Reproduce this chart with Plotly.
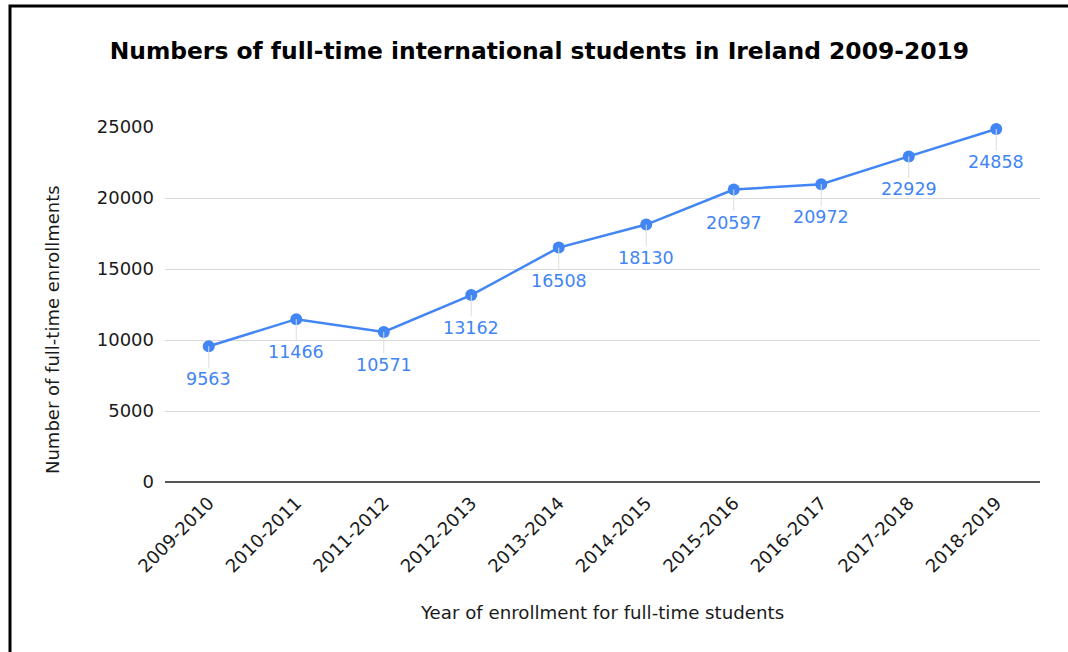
import plotly.graph_objects as go

years = ["2009-2010", "2010-2011", "2011-2012", "2012-2013", "2013-2014",
         "2014-2015", "2015-2016", "2016-2017", "2017-2018", "2018-2019"]
students = [9563, 11466, 10571, 13162, 16508, 18130, 20597, 20972, 22929, 24858]

BLUE = "#4285F4"
FONT = "DejaVu Sans"
TXT = "#1a1a1a"

fig = go.Figure()
fig.add_trace(go.Scatter(
    x=years, y=students, mode="lines+markers",
    line=dict(color=BLUE, width=2.5),
    marker=dict(color=BLUE, size=12),
    cliponaxis=False, showlegend=False,
))

for yr, v in zip(years, students):
    fig.add_annotation(
        x=yr, y=v, text=str(v), showarrow=True, arrowhead=0,
        arrowcolor="#dddddd", arrowwidth=1, ax=0, ay=33,
        font=dict(family=FONT, size=17.5, color=BLUE),
    )

# y-axis title (placed as annotation to match vertical offset)
fig.add_annotation(
    xref="paper", yref="paper", x=(52 - 165) / 875, y=(482 - 330) / 355,
    xanchor="center", yanchor="middle", textangle=-90, showarrow=False,
    text="Number of full-time enrollments",
    font=dict(family=FONT, size=18, color=TXT),
)

# outer frame
L = (10 - 165) / 875
T = (482 - 6) / 355
fig.add_shape(type="path", xref="paper", yref="paper",
              path=f"M {L} -1 L {L} {T} L 1.3 {T}",
              line=dict(color="black", width=3))

fig.update_layout(
    width=1068, height=652,
    margin=dict(l=165, r=28, t=127, b=170),
    paper_bgcolor="white", plot_bgcolor="white",
    font=dict(family=FONT, color=TXT),
    title=dict(text="<b>Numbers of full-time international students in Ireland 2009-2019</b>",
               x=0.505, xanchor="center", y=1 - 51 / 652, yanchor="middle",
               font=dict(family=FONT, size=23.4, color="black")),
)
fig.update_xaxes(
    type="category", range=[-0.5, 9.5], tickangle=-45,
    tickfont=dict(family=FONT, size=18, color=TXT),
    showgrid=False, showline=False, ticks="", ticklabelstandoff=6,
    title=dict(text="Year of enrollment for full-time students",
               font=dict(family=FONT, size=18.2, color=TXT), standoff=30),
)
fig.update_yaxes(
    range=[0, 25000], dtick=5000, tickformat="d",
    tickfont=dict(family=FONT, size=18, color=TXT),
    showgrid=True, gridcolor="#d9d9d9", gridwidth=1,
    zeroline=True, zerolinecolor="#555555", zerolinewidth=1.5,
    ticks="", ticklen=0, showline=False, ticklabelstandoff=10,
)

fig.write_html("out.html")
